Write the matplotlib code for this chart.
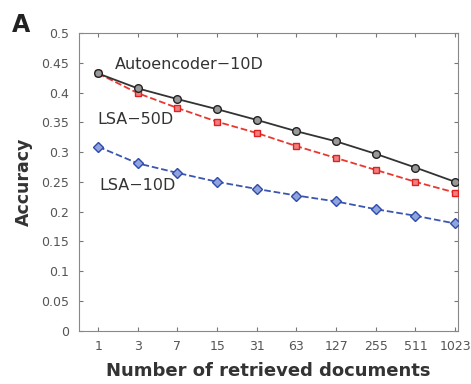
import numpy as np
import matplotlib.pyplot as plt

# Data
docs = ['1', '3', '7', '15', '31', '63', '127', '255', '511', '1023']
autoencoder_10d = [0.432, 0.407, 0.389, 0.372, 0.354, 0.335, 0.318, 0.297, 0.274, 0.250]
lsa_50d = [0.432, 0.399, 0.374, 0.351, 0.332, 0.310, 0.290, 0.270, 0.250, 0.232]
lsa_10d = [0.309, 0.281, 0.265, 0.250, 0.238, 0.227, 0.217, 0.204, 0.193, 0.180]
yticks = [0, 0.05, 0.1, 0.15, 0.2, 0.25, 0.3, 0.35, 0.4, 0.45, 0.5]

x = np.arange(len(docs))

fig = plt.figure(figsize=(4.71, 3.84), dpi=100)
ax = fig.add_axes([0.168, 0.139, 0.804, 0.775])

ax.plot(x, autoencoder_10d, '-', color='#333333', lw=1.3, marker='o', ms=5.5,
        mfc='#999999', mec='#222222', mew=1.0, zorder=4)
ax.plot(x, lsa_50d, '--', color='#e8382e', lw=1.3, marker='s', ms=5,
        mfc='#f08080', mec='#e02020', mew=1.0, zorder=3)
ax.plot(x, lsa_10d, '--', color='#3a56b0', lw=1.3, marker='D', ms=5,
        mfc='#8fa3dd', mec='#2f4aa8', mew=1.0, zorder=3)

ax.text(0.42, 0.447, 'Autoencoder\u221210D', fontsize=11.5, color='#333333', va='center')
ax.text(-0.02, 0.355, 'LSA\u221250D', fontsize=11.5, color='#333333', va='center')
ax.text(0.02, 0.243, 'LSA\u221210D', fontsize=11.5, color='#333333', va='center')

ax.set_xlim(-0.48, 9.07)
ax.set_ylim(0, 0.5)
ax.set_xticks(x)
ax.set_xticklabels(docs)
ax.set_yticks(yticks)
ax.set_yticklabels(['0', '0.05', '0.1', '0.15', '0.2', '0.25', '0.3', '0.35', '0.4', '0.45', '0.5'])
ax.tick_params(direction='in', top=True, right=True, length=3, labelsize=9, pad=7,
               colors='#777777', labelcolor='#555555')
for s in ax.spines.values():
    s.set_color('#888888')

ax.set_xlabel('Number of retrieved documents', fontsize=13, fontweight='bold', color='#333333', labelpad=6)
ax.set_ylabel('Accuracy', fontsize=12.5, fontweight='bold', color='#333333', labelpad=6)

fig.text(0.026, 0.917, 'A', fontsize=17, fontweight='bold', color='#222222')

plt.savefig('out.png', dpi=100)
